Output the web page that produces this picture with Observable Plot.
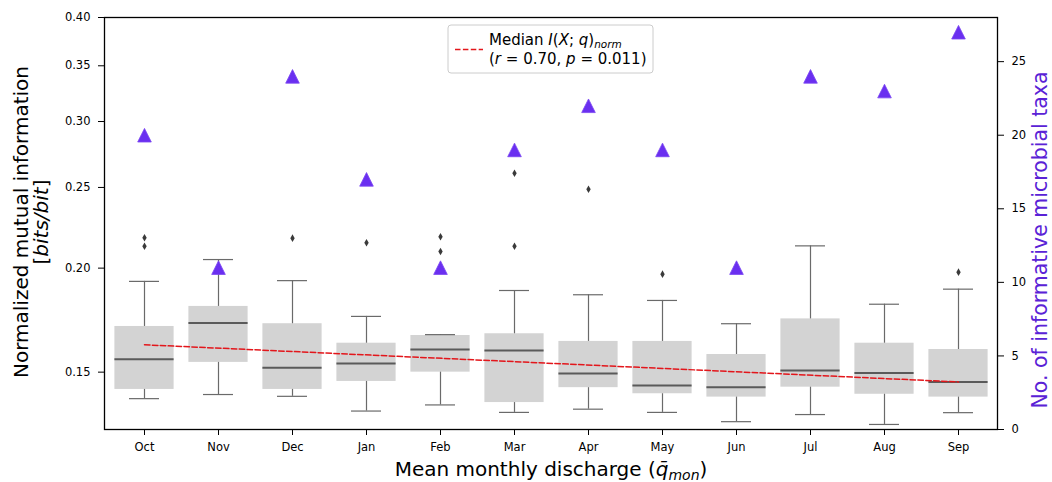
<!DOCTYPE html>
<html>
<head>
<meta charset="utf-8">
<script src="https://cdn.jsdelivr.net/npm/d3@7"></script>
<script src="https://cdn.jsdelivr.net/npm/@observablehq/plot@0.6"></script>
<style>
  html, body { margin: 0; padding: 0; background: #fff; }
  #wrap { position: relative; width: 1052px; height: 482px; }
  #wrap svg { position: absolute; left: 0; top: 0; }
</style>
</head>
<body>
<div id="wrap"></div>
<script>
// ---- data ----
const months = ["Oct","Nov","Dec","Jan","Feb","Mar","Apr","May","Jun","Jul","Aug","Sep"];
const whiskerLow  = [0.1394,0.1410,0.1403,0.1347,0.1370,0.1342,0.1354,0.1342,0.1308,0.1334,0.1298,0.1341];
const q1          = [0.1430,0.1541,0.1430,0.1462,0.1500,0.1379,0.1437,0.1413,0.1400,0.1439,0.1411,0.1400];
const medians     = [0.1555,0.1718,0.1518,0.1536,0.1597,0.1593,0.1494,0.1446,0.1439,0.1507,0.1496,0.1460];
const q3          = [0.1702,0.1799,0.1715,0.1625,0.1660,0.1668,0.1633,0.1633,0.1575,0.1738,0.1625,0.1597];
const whiskerHigh = [0.1928,0.2048,0.1932,0.1750,0.1664,0.1880,0.1858,0.1829,0.1715,0.2127,0.1810,0.1887];
const outlierMonths = ["Oct","Oct","Dec","Jan","Feb","Feb","Mar","Mar","Apr","May","Sep"];
const outlierValues = [0.2175,0.2125,0.2173,0.2145,0.2181,0.2094,0.2600,0.2125,0.2487,0.1967,0.1978];
const taxaCounts = [20,11,24,17,11,19,22,19,11,24,23,27];
const trendMonths = ["Oct","Sep"];
const trendValues = [0.1618,0.1460];
const leftTicks = [0.15,0.20,0.25,0.30,0.35,0.40];
const rightTicks = [0,5,10,15,20,25];

// ---- tables ----
const boxes = months.map((m,i) => ({month:m, lo:whiskerLow[i], q1:q1[i], med:medians[i], q3:q3[i], hi:whiskerHigh[i]}));
const outliers = outlierMonths.map((m,i) => ({month:m, v:outlierValues[i]}));
const taxa = months.map((m,i) => ({month:m, n:taxaCounts[i]}));
const trend = trendMonths.map((m,i) => ({month:m, v:trendValues[i]}));

const W = 1052, H = 482;
const common = {
  width: W, height: H,
  marginLeft: 104, marginRight: 55, marginTop: 17, marginBottom: 53,
  style: {fontFamily: "DejaVu Sans", fontSize: "11.5px", background: "transparent", overflow: "visible", color: "#000"}
};
const xScale = {type: "band", domain: months, padding: 0, label: null};

const triUp = {draw(ctx, size) { const a = Math.sqrt(size / Math.PI); ctx.moveTo(0, -a); ctx.lineTo(a, a); ctx.lineTo(-a, a); ctx.closePath(); }};

const p1 = Plot.plot({
  ...common,
  x: xScale,
  y: {type: "log", domain: [0.128, 0.40], label: null},
  marks: [
    Plot.barY(boxes, {x: "month", y1: "q1", y2: "q3", fill: "#d3d3d3", insetLeft: 7.4, insetRight: 7.4}),
    Plot.ruleX(boxes, {x: "month", y1: "lo", y2: "q1", stroke: "#6a6a6a", strokeWidth: 1.2}),
    Plot.ruleX(boxes, {x: "month", y1: "q3", y2: "hi", stroke: "#6a6a6a", strokeWidth: 1.2}),
    Plot.tickY(boxes, {x: "month", y: "lo", stroke: "#6a6a6a", strokeWidth: 1.2, insetLeft: 22, insetRight: 22}),
    Plot.tickY(boxes, {x: "month", y: "hi", stroke: "#6a6a6a", strokeWidth: 1.2, insetLeft: 22, insetRight: 22}),
    Plot.tickY(boxes, {x: "month", y: "med", stroke: "#5a5a5a", strokeWidth: 2, insetLeft: 7.4, insetRight: 7.4}),
    Plot.dot(outliers, {x: "month", y: "v", symbol: "diamond", r: 2.3, fill: "#3a3a3a", stroke: "none"}),
    Plot.line(trend, {x: "month", y: "v", stroke: "#e3161b", strokeWidth: 1.5, strokeDasharray: "5.5,2.4"}),
    Plot.axisX({tickSize: 6, tickPadding: 7, fontSize: 11.5, label: null}),
    Plot.axisY({ticks: leftTicks, tickFormat: d3.format(".2f"), tickSize: 6, tickPadding: 8, label: null}),
    Plot.frame({stroke: "#000", strokeWidth: 1.3})
  ]
});

const p2 = Plot.plot({
  ...common,
  x: {...xScale, axis: null},
  y: {domain: [0, 28], label: null, axis: null},
  marks: [
    Plot.dot(taxa, {x: "month", y: "n", symbol: triUp, r: 6.8, fill: "#6a2ff0", stroke: "#7a45f2", strokeWidth: 0.8}),
    Plot.axisY({anchor: "right", ticks: rightTicks, tickSize: 6, tickPadding: 8, label: null})
  ]
});

const wrap = document.getElementById("wrap");
wrap.appendChild(p1);
wrap.appendChild(p2);

// ---- labels & legend (text) ----
const s1 = d3.select(p1);
const lab = s1.append("g").attr("font-family", "DejaVu Sans").attr("fill", "#000");
lab.append("text").attr("transform", "translate(28,222) rotate(-90)").attr("text-anchor", "middle")
  .attr("font-size", 20).text("Normalized mutual information");
const t2 = lab.append("text").attr("transform", "translate(48,222) rotate(-90)").attr("text-anchor", "middle").attr("font-size", 20);
t2.append("tspan").text("[");
t2.append("tspan").attr("font-style", "italic").text("bits/bit");
t2.append("tspan").text("]");

const xl = lab.append("text").attr("x", 551).attr("y", 476).attr("text-anchor", "middle").attr("font-size", 20);
xl.append("tspan").text("Mean monthly discharge (");
xl.append("tspan").attr("font-style", "italic").text("q\u0304");
xl.append("tspan").attr("font-style", "italic").attr("font-size", 14).attr("dy", 4).text("mon");
xl.append("tspan").attr("dy", -4).text(")");

// legend
const lg = s1.append("g").attr("font-family", "DejaVu Sans").attr("text-anchor", "start");
lg.append("rect").attr("x", 448).attr("y", 25).attr("width", 205).attr("height", 48).attr("rx", 3)
  .attr("fill", "#fff").attr("fill-opacity", 0.85).attr("stroke", "#cccccc").attr("stroke-width", 1);
lg.append("line").attr("x1", 455).attr("x2", 483).attr("y1", 49.5).attr("y2", 49.5)
  .attr("stroke", "#e3161b").attr("stroke-width", 1.5).attr("stroke-dasharray", "5.5,2.4");
const l1 = lg.append("text").attr("x", 489).attr("y", 45).attr("font-size", 15).attr("fill", "#000").attr("text-anchor", "start");
l1.append("tspan").text("Median ");
l1.append("tspan").attr("font-style", "italic").text("I");
l1.append("tspan").text("(");
l1.append("tspan").attr("font-style", "italic").text("X");
l1.append("tspan").text("; ");
l1.append("tspan").attr("font-style", "italic").text("q");
l1.append("tspan").text(")");
l1.append("tspan").attr("font-style", "italic").attr("font-size", 10.5).attr("dy", 3).text("norm");
const l2 = lg.append("text").attr("x", 489).attr("y", 64).attr("font-size", 15).attr("fill", "#000").attr("text-anchor", "start");
l2.append("tspan").text("(");
l2.append("tspan").attr("font-style", "italic").text("r");
l2.append("tspan").text(" = 0.70, ");
l2.append("tspan").attr("font-style", "italic").text("p");
l2.append("tspan").text(" = 0.011)");

// right label
d3.select(p2).append("text").attr("font-family", "DejaVu Sans").attr("font-size", 20.5)
  .attr("fill", "#5a22d6").attr("text-anchor", "middle")
  .attr("transform", "translate(1047,240) rotate(-90)")
  .text("No. of informative microbial taxa");
</script>
</body>
</html>
